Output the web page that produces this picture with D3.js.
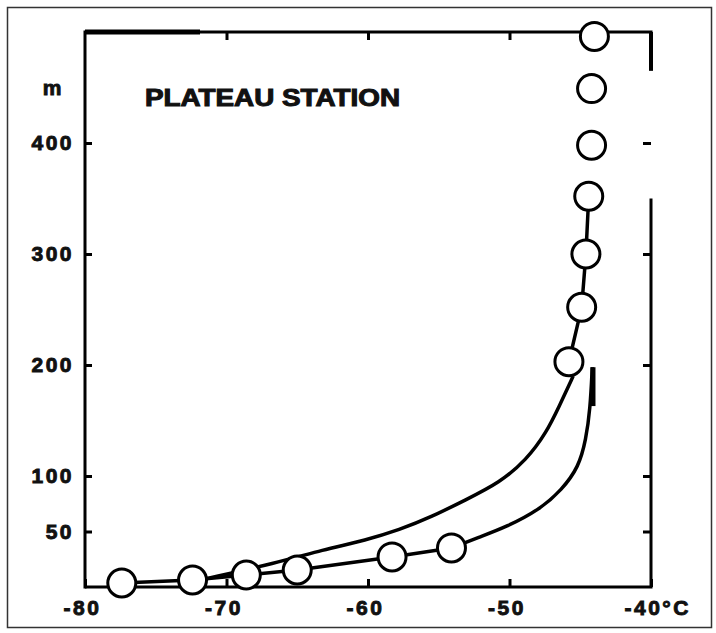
<!DOCTYPE html>
<html>
<head>
<meta charset="utf-8">
<script src="https://cdn.jsdelivr.net/npm/d3@7/dist/d3.min.js"></script>
<style>
  html, body { margin: 0; padding: 0; background: #fff; }
  svg { display: block; }
  text { font-family: "Liberation Sans", Arial, sans-serif; font-weight: bold; fill: #111; }
</style>
</head>
<body>
<svg id="chart" width="716" height="633"></svg>
<script>
// Temperature profile, Plateau Station (temperature in °C, height in m)
const title = "PLATEAU STATION";
const xTicks = [-80, -70, -60, -50, -40];
const xTickLabels = ["-80", "-70", "-60", "-50", "-40°C"];
const yTicks = [50, 100, 200, 300, 400];
const yTickLabels = ["50", "100", "200", "300", "400"];
const yUnit = "m";

// observed temperatures near the surface (lower profile)
const lowTemp   = [-77.4, -72.4, -68.6, -65.0, -58.3, -54.1];
const lowHeight = [3.6, 6.3, 10.8, 15.3, 27.1, 35.2];
// observed temperatures aloft
const upTemp   = [-45.8, -44.9, -44.6, -44.4, -44.2, -44.2, -44.0];
const upHeight = [203, 252, 300, 352, 398, 449, 496];

// fitted curve continuing the lower profile up to 200 m
const curveLowTemp   = [-54.1, -54.1, -52.1, -50.2, -47.9, -46.3, -45.1, -44.6, -44.3, -44.15, -44.15];
const curveLowHeight = [35.2, 35.2, 45.1, 54.2, 69.5, 87.5, 108.3, 132.7, 160, 198, 198];
// fitted curve from the surface up to the 200 m observation
const curveUpTemp   = [-71.5, -71.5, -66.5, -63.2, -60.1, -57.8, -55.5, -53.1, -50.7, -48.8, -47.4, -46.5, -45.5, -45.5];
const curveUpHeight = [7.2, 7.2, 21.7, 33.4, 42.4, 51.4, 63.2, 78.5, 93.9, 114.6, 139, 162.5, 190, 190];

const svg = d3.select("#chart");
const plotLeft = 85, plotRight = 651, plotTop = 32, plotBottom = 587;

const x = d3.scaleLinear().domain([-80, -40]).range([plotLeft, plotRight]);
const y = d3.scaleLinear().domain([0, 500]).range([plotBottom, plotTop]);

// outer frame
svg.append("rect")
  .attr("x", 7.5).attr("y", 7.5).attr("width", 704).attr("height", 620)
  .attr("fill", "none").attr("stroke", "#333").attr("stroke-width", 1.5);

// plot frame (right edge is broken in the upper part)
const frame = svg.append("g").attr("stroke", "#000").attr("stroke-width", 3).attr("fill", "none");
frame.append("line").attr("x1", plotLeft).attr("y1", plotTop).attr("x2", plotRight + 1.5).attr("y2", plotTop);
frame.append("line").attr("x1", plotLeft).attr("y1", plotTop).attr("x2", 200).attr("y2", plotTop).attr("stroke-width", 5);
frame.append("line").attr("x1", plotLeft).attr("y1", plotTop - 1.5).attr("x2", plotLeft).attr("y2", plotBottom + 1.5);
frame.append("line").attr("x1", plotLeft).attr("y1", plotBottom).attr("x2", plotRight + 1.5).attr("y2", plotBottom);
frame.append("line").attr("x1", plotRight).attr("y1", plotTop).attr("x2", plotRight).attr("y2", y(465)).attr("stroke-width", 4);
frame.append("line").attr("x1", plotRight).attr("y1", y(350)).attr("x2", plotRight).attr("y2", plotBottom);

// axes with inward ticks
const xAxis = svg.append("g").attr("transform", `translate(0,${plotBottom})`)
  .call(d3.axisBottom(x).tickValues(xTicks).tickSize(-8).tickPadding(12)
    .tickFormat((d, i) => xTickLabels[i]));
svg.append("g").attr("transform", `translate(0,${plotTop})`)
  .call(d3.axisTop(x).tickValues(xTicks.slice(1, 4)).tickSize(-8).tickFormat(""));
const yAxis = svg.append("g").attr("transform", `translate(${plotLeft},0)`)
  .call(d3.axisLeft(y).tickValues(yTicks).tickSize(-7).tickPadding(11)
    .tickFormat((d, i) => yTickLabels[i]));
svg.append("g").attr("transform", `translate(${plotRight},0)`)
  .call(d3.axisRight(y).tickValues(yTicks).tickSize(-8).tickFormat(""));

svg.selectAll(".domain").remove();
svg.selectAll(".tick line").attr("stroke", "#000").attr("stroke-width", 3);
svg.selectAll(".tick text")
  .attr("font-size", 21).attr("font-family", "'Liberation Sans', Arial, sans-serif")
  .attr("font-weight", "bold").attr("fill", "#111")
  .attr("stroke", "#111").attr("stroke-width", 0.9)
  .style("letter-spacing", "2.5px");
xAxis.selectAll(".tick text").attr("dy", "0.75em").attr("dx", -3);
xAxis.selectAll(".tick text").filter((d, i) => i === xTicks.length - 1)
  .attr("text-anchor", "start").attr("dx", -27);

// unit label on the height axis
svg.append("text")
  .attr("x", 52)
  .attr("y", y(450)).attr("dy", "0.35em")
  .attr("text-anchor", "middle").attr("font-size", 21)
  .attr("stroke", "#111").attr("stroke-width", 0.9)
  .text(yUnit);

// station name
svg.append("text")
  .attr("x", 145).attr("y", 106)
  .attr("font-size", 23).attr("textLength", 255).attr("lengthAdjust", "spacingAndGlyphs")
  .attr("stroke", "#111").attr("stroke-width", 1)
  .text(title);

const smooth = d3.line().x(d => x(d[0])).y(d => y(d[1])).curve(d3.curveBasis);
const straight = d3.line().x(d => x(d[0])).y(d => y(d[1]));

const curveLow = curveLowTemp.map((t, i) => [t, curveLowHeight[i]]);
const curveUp = curveUpTemp.map((t, i) => [t, curveUpHeight[i]]);
const lowPts = lowTemp.map((t, i) => [t, lowHeight[i]]);
const upPts = upTemp.map((t, i) => [t, upHeight[i]]);

const lines = svg.append("g").attr("fill", "none").attr("stroke", "#000").attr("stroke-width", 3.5);
lines.append("path").attr("d", smooth(curveUp));
lines.append("path").attr("d", smooth(curveLow));
lines.append("path").attr("d", straight(lowPts));
lines.append("path").attr("d", straight(upPts.slice(0, 4)));
// thickened upper end of the lower curve
const lastLowT = curveLowTemp[curveLowTemp.length - 1];
lines.append("path").attr("stroke-width", 5)
  .attr("d", straight([[lastLowT + 0.05, 163], [lastLowT + 0.05, 198]]));

// observation circles
svg.append("g").selectAll("circle")
  .data(lowPts.concat(upPts))
  .join("circle")
  .attr("cx", d => x(d[0])).attr("cy", d => y(d[1]))
  .attr("r", 14)
  .attr("fill", "#fff").attr("stroke", "#000").attr("stroke-width", 3);
</script>
</body>
</html>
